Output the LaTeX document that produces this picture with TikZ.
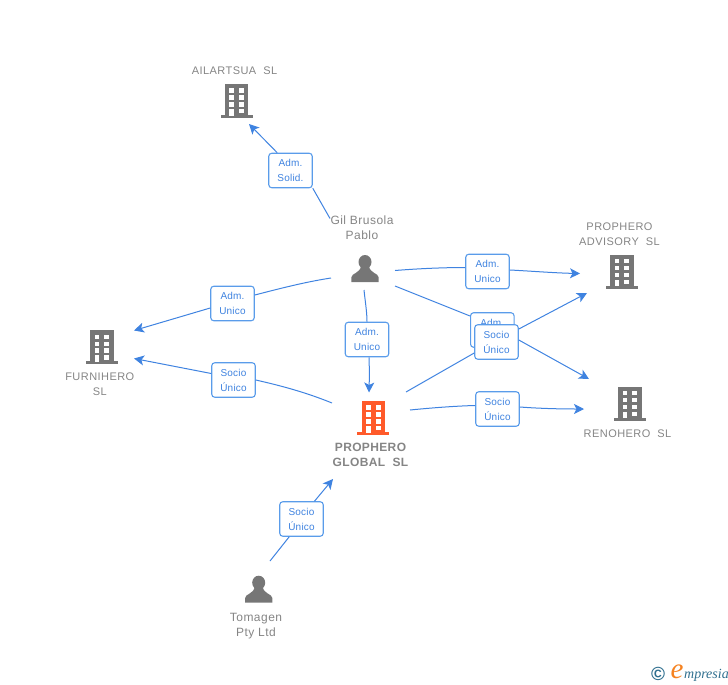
\documentclass[tikz,border=0pt]{standalone}
\usepackage{fontspec}
\setmainfont{Liberation Sans}
\newfontfamily\logofont{Liberation Serif}
\usetikzlibrary{arrows.meta}
\definecolor{linkblue}{HTML}{3F83E0}
\definecolor{boxblue}{HTML}{5A9CEA}
\definecolor{textgrey}{HTML}{858585}
\definecolor{icongrey}{HTML}{767676}
\definecolor{hotorange}{HTML}{FF5A2A}
\definecolor{logoteal}{HTML}{2F6F8F}
\definecolor{logoorange}{HTML}{F58220}
\tikzset{
  x=1pt,y=-1pt,
  rolebox/.style={draw=boxblue,line width=1.1pt,fill=white,rounded corners=3pt,minimum width=43.5pt,minimum height=34.5pt,inner sep=0pt,align=center,text=linkblue,font=\fontsize{10}{15}\selectfont\addfontfeature{LetterSpace=2}},
  entity/.style={inner sep=0pt,align=center,text=textgrey,font=\fontsize{11}{15}\selectfont\addfontfeature{LetterSpace=4}},
  personentity/.style={entity,font=\fontsize{12}{15}\selectfont\addfontfeature{LetterSpace=4}},
  mainentity/.style={entity,font=\fontsize{12}{15}\selectfont\bfseries\addfontfeature{LetterSpace=3}},
  link/.style={draw=linkblue,line width=1pt},
  arrowlink/.style={link,-{Stealth[inset=2.5pt,length=10pt,width=10pt]}},
}
\newcommand{\rl}[2]{\raisebox{-1pt}{#1}\\\raisebox{-1pt}{#2}}
\newcommand{\buildingicon}[3]{% center x, bottom y, colour
  \fill[#3] (#1-11.7,#2-34) rectangle (#1+11.7,#2-2);
  \fill[#3] (#1-15.9,#2-3) rectangle (#1+15.9,#2);
  \foreach \wy in {-29.7,-22.7,-15.9,-9}{
    \fill[white] (#1+2.4,#2+\wy) rectangle (#1+7.3,#2+\wy+4.4);
  }
  \foreach \wy in {-29.7,-22.7,-15.9}{
    \fill[white] (#1-7.3,#2+\wy) rectangle (#1-2.4,#2+\wy+4.4);
  }
  \fill[white] (#1-7.3,#2-9) rectangle (#1-2.4,#2-2.4);
}
\newcommand{\personfull}[2]{% center x, top y
  \fill[icongrey] (#1,#2+7) ellipse[x radius=6.5,y radius=7];
  \fill[icongrey] (#1-13.7,#2+27) -- (#1-13.7,#2+22.5)
     .. controls (#1-13.5,#2+18) and (#1-5,#2+18.5) .. (#1-4,#2+11)
     -- (#1+4,#2+11)
     .. controls (#1+5,#2+18.5) and (#1+13.5,#2+18) .. (#1+13.7,#2+22.5)
     -- (#1+13.7,#2+27) -- cycle;
}
\begin{document}
\begin{tikzpicture}
\useasboundingbox (0,0) rectangle (728,685);
% icons
\buildingicon{236.7}{118}{icongrey}
\buildingicon{621.8}{288.7}{icongrey}
\buildingicon{629.8}{420.7}{icongrey}
\buildingicon{101.8}{364.3}{icongrey}
\buildingicon{373.2}{435}{hotorange}
\personfull{365}{255}
\personfull{258.7}{575.7}
% entity labels
\node[entity] (ailartsua) at (234.5,70.5) {AILARTSUA\ \ SL};
\node[entity] (advisory) at (619.5,234) {PROPHERO\\ADVISORY\ \ SL};
\node[entity] (renohero) at (627.5,433.5) {RENOHERO\ \ SL};
\node[entity] (furnihero) at (99.8,384) {FURNIHERO\\SL};
\node[mainentity] (global) at (370.5,454.5) {PROPHERO\\GLOBAL\ \ SL};
\node[personentity] (gil) at (362,227.5) {Gil Brusola\\Pablo};
\node[personentity] (tomagen) at (256,626) {Tomagen\\Pty Ltd};
% free connector ends
\coordinate (gilA) at (330,218.5);
\coordinate (tipA) at (249,124);
\coordinate (gilB) at (395,270.5);
\coordinate (tipB) at (580,273.5);
\coordinate (gilC) at (395,286);
\coordinate (tipC) at (589,379);
\coordinate (gloD) at (406,392);
\coordinate (tipD) at (587,293);
\coordinate (gloE) at (410,410);
\coordinate (tipE) at (584,409);
\coordinate (gilF) at (331,278);
\coordinate (tipF) at (134,330.5);
\coordinate (gloG) at (332,403);
\coordinate (tipG) at (134,358.5);
\coordinate (gilH) at (364,290);
\coordinate (tipH) at (369,392.5);
\coordinate (tomI) at (270,561);
\coordinate (tipI) at (333,479);
% role boxes
\node[rolebox] (r1) at (290.5,170.5) {\rl{Adm.}{Solid.}};
\node[rolebox] (r2) at (487.5,271.5) {\rl{Adm.}{Unico}};
\node[rolebox] (r3) at (492.3,330) {\rl{Adm.}{Unico}};
\node[rolebox] (r4) at (496.5,342) {\rl{Socio}{Único}};
\node[rolebox] (r5) at (497.5,409) {\rl{Socio}{Único}};
\node[rolebox] (r6) at (232.5,303.5) {\rl{Adm.}{Unico}};
\node[rolebox] (r7) at (233.5,380) {\rl{Socio}{Único}};
\node[rolebox] (r8) at (367,339.5) {\rl{Adm.}{Unico}};
\node[rolebox] (r9) at (301.5,519) {\rl{Socio}{Único}};
% connectors
\draw[link] (gilA) -- (r1.south east);
\draw[arrowlink] ([xshift=9pt]r1.north west) -- (tipA);
\draw[link] (gilB) .. controls (420,268.5) and (445,267.5) .. (r2.west |- 0,267.5);
\draw[arrowlink] (r2.east |- 0,270) .. controls (530,271) and (555,273) .. (tipB);
\draw[link] (gilC) -- (r3.west |- 0,316);
\draw[arrowlink] (r4.east |- 0,340) -- (tipC);
\draw[link] (gloD) -- (r4.west |- 0,353);
\draw[arrowlink] (r4.east |- 0,329) -- (tipD);
\draw[link] (gloE) .. controls (430,408) and (455,406) .. (r5.west |- 0,405.5);
\draw[arrowlink] (r5.east |- 0,407) .. controls (540,408.5) and (560,409) .. (tipE);
\draw[link] (gilF) .. controls (305,282) and (280,288.5) .. (r6.east |- 0,295);
\draw[arrowlink] (r6.west |- 0,308) -- (tipF);
\draw[link] (gloG) .. controls (305,392) and (280,385.5) .. (r7.east |- 0,380);
\draw[arrowlink] (r7.west |- 0,373.5) -- (tipG);
\draw[link] (gilH) .. controls (365,300) and (367,312) .. (r8.north);
\draw[arrowlink] ([xshift=2pt]r8.south) .. controls (369.5,370) and (369.3,380) .. (tipH);
\draw[link] (tomI) -- ([xshift=10pt]r9.south west);
\draw[arrowlink] ([xshift=13pt]r9.north) -- (tipI);
% logo
\node[inner sep=0pt,text=logoteal,font=\fontsize{19}{19}\selectfont\bfseries] (copyr) at (658,674) {©};
\node[inner sep=0pt,text=logoorange,font=\logofont\itshape\fontsize{29}{29}\selectfont] (logoe) at (677,672) {e};
\node[inner sep=0pt,anchor=base west,text=logoteal,font=\logofont\itshape\fontsize{14}{14}\selectfont] (logotext) at (684,678.5) {mpresia};
\end{tikzpicture}
\end{document}
